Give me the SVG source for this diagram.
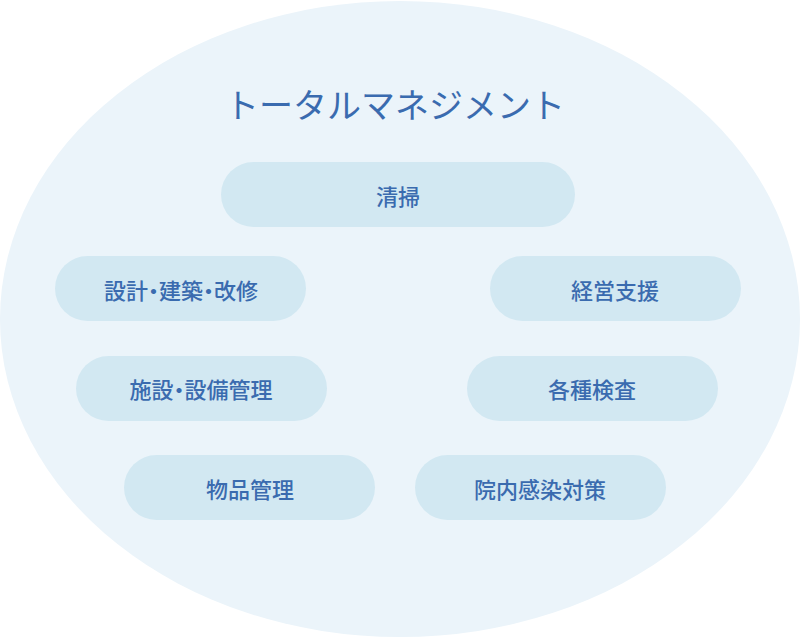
<svg xmlns="http://www.w3.org/2000/svg" width="800" height="640" viewBox="0 0 800 640">
<style>
.pill{fill:#D2E8F2}
.lbl{font-family:"Noto Sans CJK JP","Noto Sans",sans-serif;font-size:22px;font-weight:500;fill:#3A6BAF;text-anchor:middle;dominant-baseline:central}
.title{font-family:"Noto Sans CJK JP","Noto Sans",sans-serif;font-size:34px;font-weight:400;fill:#3A6BAF;text-anchor:middle;dominant-baseline:central}
.p{font-feature-settings:"palt"}
</style>
<rect width="800" height="640" fill="#FFFFFF"/>
<ellipse cx="400" cy="319" rx="400" ry="318" fill="#EBF4FA"/>
<text class="title" x="395" y="103">トータルマネジメント</text>
<g id="connectors"></g>
<g id="n-seisou"><rect class="pill" x="221" y="162" width="354" height="65" rx="32.5"/><text class="lbl" x="398" y="195">清掃</text></g>
<g id="n-sekkei"><rect class="pill" x="55" y="256" width="251" height="65" rx="32.5"/><text class="lbl p" x="181" y="289">設計・建築・改修</text></g>
<g id="n-keiei"><rect class="pill" x="490" y="256" width="251" height="65" rx="32.5"/><text class="lbl" x="615" y="289">経営支援</text></g>
<g id="n-shisetsu"><rect class="pill" x="76" y="356" width="251" height="65" rx="32.5"/><text class="lbl p" x="201" y="388">施設・設備管理</text></g>
<g id="n-kensa"><rect class="pill" x="467" y="356" width="251" height="65" rx="32.5"/><text class="lbl" x="592" y="388">各種検査</text></g>
<g id="n-buppin"><rect class="pill" x="124" y="455" width="251" height="65" rx="32.5"/><text class="lbl" x="250" y="488">物品管理</text></g>
<g id="n-innai"><rect class="pill" x="415" y="455" width="251" height="65" rx="32.5"/><text class="lbl" x="540" y="488">院内感染対策</text></g>
</svg>
